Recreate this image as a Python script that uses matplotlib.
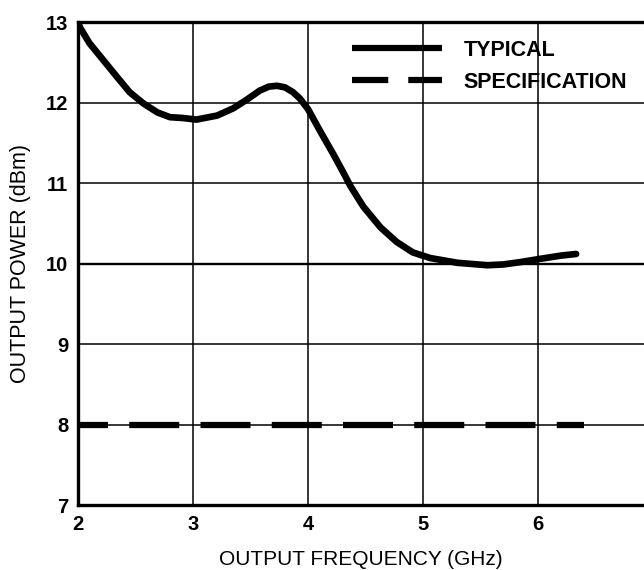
import matplotlib.pyplot as plt
from matplotlib.lines import Line2D

# typical output power curve
freq_ghz = [2.0, 2.02, 2.10, 2.22, 2.34, 2.45, 2.57, 2.69, 2.80, 2.91, 3.03,
            3.21, 3.35, 3.47, 3.58, 3.66, 3.73, 3.80, 3.87, 3.93, 4.00, 4.10, 4.22,
            4.30, 4.37, 4.48, 4.63, 4.77, 4.91, 5.06, 5.30, 5.56, 5.70,
            5.85, 6.02, 6.20, 6.33]
power_dbm = [13.0, 12.93, 12.74, 12.53, 12.32, 12.13, 11.99, 11.88, 11.82, 11.81, 11.79,
             11.84, 11.93, 12.04, 12.15, 12.20, 12.21, 12.19, 12.13, 12.05, 11.92, 11.66, 11.36,
             11.15, 10.96, 10.71, 10.45, 10.27, 10.14, 10.07, 10.01, 9.98, 9.99,
             10.02, 10.06, 10.10, 10.12]

# specification limit
spec_freq = [2.0, 6.4]
spec_power = [8.0, 8.0]

x_ticks = [2, 3, 4, 5, 6]
y_ticks = [7, 8, 9, 10, 11, 12, 13]

plt.rcParams["font.family"] = ["Liberation Sans", "DejaVu Sans"]

fig = plt.figure(figsize=(6.44, 5.70), dpi=100)
ax = fig.add_axes([0.121, 0.114, 0.879, 0.847])

ax.plot(freq_ghz, power_dbm, color="black", lw=4.8, solid_capstyle="round",
        solid_joinstyle="round", zorder=3)
ax.plot(spec_freq, spec_power, color="black", lw=4.5,
        linestyle=(3.2, (8.0, 3.4)), dash_capstyle="butt", zorder=3)

ax.set_xlim(2, 6.92)
ax.set_ylim(7, 13)
ax.set_xticks(x_ticks)
ax.set_yticks(y_ticks)
ax.grid(True, color="black", lw=1.1)
ax.axhline(10, color="black", lw=1.7, zorder=2)
ax.tick_params(length=0, labelsize=14.5, pad=7)
for lab in ax.get_xticklabels() + ax.get_yticklabels():
    lab.set_fontweight("bold")

for side in ["left", "bottom", "top"]:
    ax.spines[side].set_linewidth(2.4)
ax.spines["right"].set_visible(False)

ax.set_xlabel("OUTPUT FREQUENCY (GHz)", fontsize=15, labelpad=12)
ax.set_ylabel("OUTPUT POWER (dBm)", fontsize=15.5, labelpad=11)

handles = [
    Line2D([], [], color="black", lw=4.5, solid_capstyle="butt"),
    Line2D([], [], color="black", lw=4.5, linestyle=(0, (5.8, 3.2)),
           dash_capstyle="butt"),
]
ax.legend(handles, ["TYPICAL", "SPECIFICATION"], loc="upper left",
          bbox_to_anchor=(0.484, 0.964), frameon=False,
          prop={"size": 15.5, "weight": "bold"}, handlelength=4.2,
          handletextpad=1.0, borderpad=0, borderaxespad=0, labelspacing=0.52)

plt.savefig("out.png", dpi=100)
